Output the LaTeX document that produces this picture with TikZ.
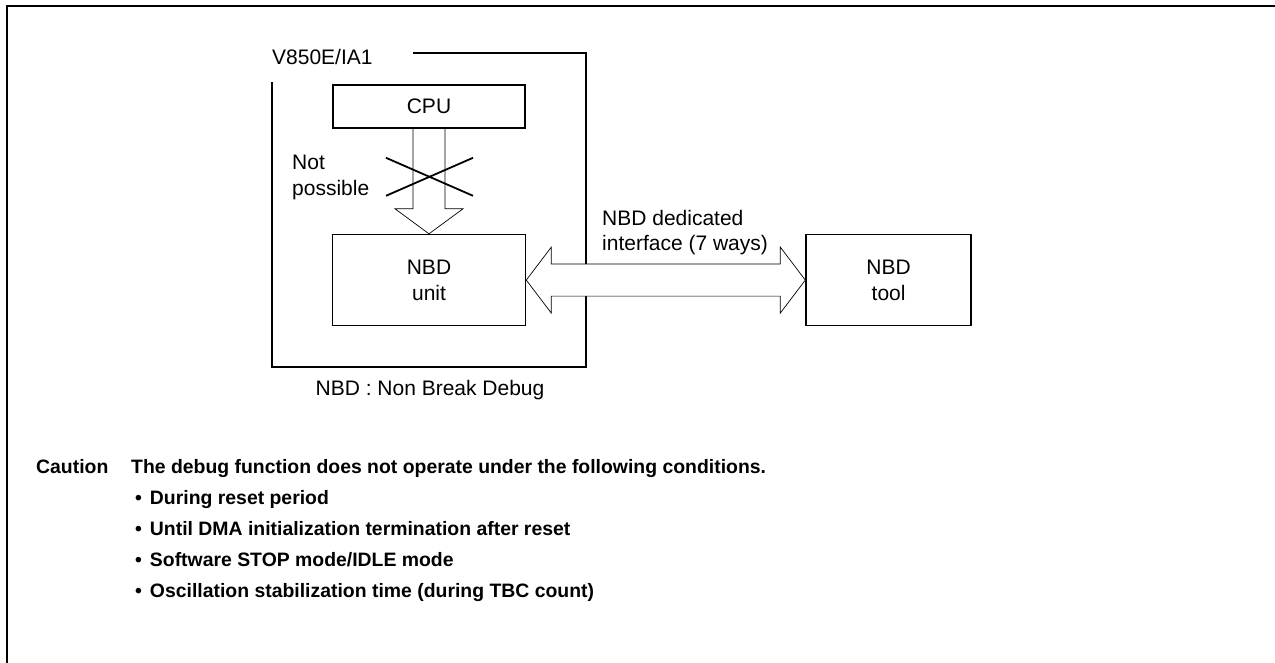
\documentclass[tikz,border=0pt]{standalone}
\usepackage{fontspec}
\setmainfont{Liberation Sans}
\usetikzlibrary{positioning, calc}

\newcommand{\condbullet}{\textbullet\hspace{8pt}}

\begin{document}
\begin{tikzpicture}[
    x=1pt, y=-1pt,
    font=\fontsize{21}{26}\selectfont,
    block/.style={rectangle, draw, line width=1.6pt, align=center, inner sep=0pt},
    txt/.style={inner sep=0pt, align=left},
    fatarrow/.style={draw, line width=0.7pt, fill=white, line join=miter},
    chipline/.style={line width=1.8pt},
    outline/.style={line width=2.6pt},
    cross/.style={line width=1.8pt},
    caution/.style={inner sep=0pt, anchor=base west, font=\fontsize{19.4}{23}\selectfont\bfseries}
]
\useasboundingbox (0,0) rectangle (1275,663);
\draw[outline] (1275,6) -- (7,6) -- (7,663);

% chip
\node[txt, anchor=west] (chip) at (272,57) {V850E/IA1};
\draw[chipline] (413,53) -- (586,53) -- (586,367) -- (272,367) -- (272,82);

\node[block, minimum width=192pt, minimum height=43pt] (cpu) at (429,106.5) {CPU};
\node[block, minimum width=193pt, minimum height=91pt, below=105pt of cpu] (unit) {NBD\\unit};
\node[block, minimum width=165pt, minimum height=91pt, right=279pt of unit] (tool) {NBD\\tool};

% blocked path cpu -> unit
\draw[fatarrow, fill=none] ($(cpu.south)+(-16,0)$) -- ($(unit.north)+(-16,-25)$) -- ($(unit.north)+(-34,-25)$)
    -- (unit.north) -- ($(unit.north)+(34,-25)$) -- ($(unit.north)+(16,-25)$) -- ($(cpu.south)+(16,0)$);
\draw[cross] ($(cpu.south)+(-43,29)$) -- ($(cpu.south)+(44,67)$);
\draw[cross] ($(cpu.south)+(-43,67)$) -- ($(cpu.south)+(44,29)$);
\node[txt, anchor=west] (notposs) at (292,177) {Not\\possible};

% dedicated interface
\draw[fatarrow] (unit.east) -- ($(unit.east)+(25,-33)$) -- ($(unit.east)+(25,-16)$)
    -- ($(tool.west)+(-25,-16)$) -- ($(tool.west)+(-25,-33)$) -- (tool.west)
    -- ($(tool.west)+(-25,33)$) -- ($(tool.west)+(-25,16)$)
    -- ($(unit.east)+(25,16)$) -- ($(unit.east)+(25,33)$) -- cycle;
\node[txt, anchor=west, font=\fontsize{21}{25}\selectfont] (iface) at (602,233) {NBD dedicated\\interface (7 ways)};

\node[txt] (abbrev) at (430,390) {NBD : Non Break Debug};

% caution
\node[caution] (caution) at (36,473) {Caution};
\node[caution] (cond) at (131,473) {The debug function does not operate under the following conditions.};
\node[caution] (item1) at (135,504) {\condbullet During reset period};
\node[caution] (item2) at (135,535) {\condbullet Until DMA initialization termination after reset};
\node[caution] (item3) at (135,566) {\condbullet Software STOP mode/IDLE mode};
\node[caution] (item4) at (135,597) {\condbullet Oscillation stabilization time (during TBC count)};
\end{tikzpicture}
\end{document}
